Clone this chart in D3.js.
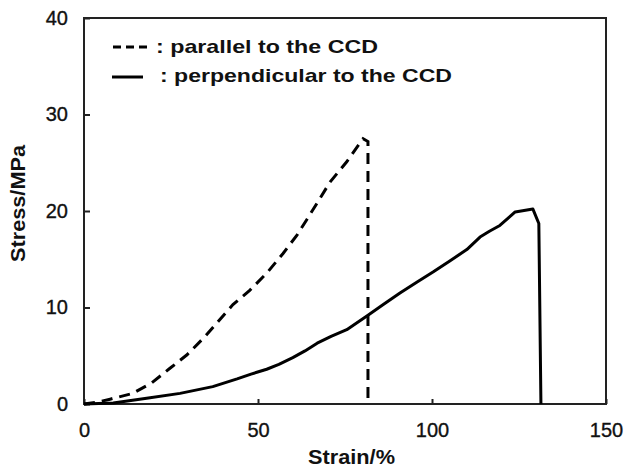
<!DOCTYPE html>
<html>
<head>
<meta charset="utf-8">
<script src="https://cdn.jsdelivr.net/npm/d3@7"></script>
<style>
  html, body { margin: 0; padding: 0; background: #fff; }
  svg { display: block; }
  text { font-family: "Liberation Sans", Arial, sans-serif; fill: #111; }
</style>
</head>
<body>
<svg id="chart" width="625" height="469"></svg>
<script>
// ---- data ----
const parallelStrain = [0, 4, 7.5, 14, 19.5, 24.7, 29.6, 34.8, 42.8, 47.7, 52.6, 57.2, 61.2, 64, 67.8, 70.7, 75.5, 80.2, 81.6, 81.6];
const parallelStress = [0, 0.2, 0.5, 1.1, 2.2, 3.7, 5.1, 7.0, 10.3, 11.8, 13.6, 15.6, 17.5, 19.1, 21.3, 23.0, 25.1, 27.5, 27.2, 0];
const perpStrain = [0, 8.4, 18, 27.6, 37, 44, 48, 52.5, 56, 60, 63.5, 67, 71, 75.5, 81.6, 86, 90.8, 95.5, 100.4, 105, 110, 113.8, 116.5, 119.5, 123.9, 129, 130.7, 131.3];
const perpStress = [0, 0.1, 0.6, 1.1, 1.8, 2.6, 3.1, 3.6, 4.1, 4.8, 5.5, 6.3, 7.0, 7.7, 9.2, 10.3, 11.5, 12.6, 13.7, 14.8, 16.0, 17.3, 17.9, 18.5, 19.9, 20.2, 18.7, 0];
const xTicks = [0, 50, 100, 150];
const yTicks = [0, 10, 20, 30, 40];
const legendLabels = [": parallel to the CCD", ": perpendicular to the CCD"];
const xTitle = "Strain/%";
const yTitle = "Stress/MPa";

// ---- layout ----
const L = 84, R = 606, T = 18, B = 404;
const svg = d3.select("#chart");
const x = d3.scaleLinear().domain([0, 150]).range([L, R]);
const y = d3.scaleLinear().domain([0, 40]).range([B, T]);

// axes (ticks inward)
const gx = svg.append("g").attr("transform", `translate(0,${B})`)
  .call(d3.axisBottom(x).tickValues(xTicks).tickSizeInner(-5).tickSizeOuter(0).tickPadding(19).tickFormat(d3.format("d")));
const gy = svg.append("g").attr("transform", `translate(${L},0)`)
  .call(d3.axisLeft(y).tickValues(yTicks).tickSizeInner(-6).tickSizeOuter(0).tickPadding(16).tickFormat(d3.format("d")));
[gx, gy].forEach(g => {
  g.select(".domain").remove();
  g.selectAll("line").attr("stroke", "#222").attr("stroke-width", 2);
  g.selectAll("text").attr("font-size", 20).attr("font-family", "Liberation Sans, Arial, sans-serif")
    .attr("fill", "#111").attr("stroke", "#111").attr("stroke-width", 0.35);
});

// frame
svg.append("rect").attr("x", L).attr("y", T).attr("width", R - L).attr("height", B - T)
  .attr("fill", "none").attr("stroke", "#222").attr("stroke-width", 2);

// curves
const line = d3.line().x(d => x(d[0])).y(d => y(d[1]));
const parData = parallelStrain.map((s, i) => [s, parallelStress[i]]);
const perpData = perpStrain.map((s, i) => [s, perpStress[i]]);
svg.append("path").datum(perpData).attr("d", line)
  .attr("fill", "none").attr("stroke", "#000").attr("stroke-width", 3).attr("stroke-linejoin", "round");
svg.append("path").datum(parData).attr("d", line)
  .attr("fill", "none").attr("stroke", "#000").attr("stroke-width", 3).attr("stroke-dasharray", "11,7");

// legend
svg.append("line").attr("x1", 113).attr("x2", 150).attr("y1", 47).attr("y2", 47)
  .attr("stroke", "#000").attr("stroke-width", 3).attr("stroke-dasharray", "8,5");
svg.append("line").attr("x1", 112).attr("x2", 143).attr("y1", 77).attr("y2", 77)
  .attr("stroke", "#000").attr("stroke-width", 3);
svg.append("text").attr("x", 156).attr("y", 53).attr("font-size", 19).attr("font-weight", "bold")
  .attr("textLength", 222).attr("lengthAdjust", "spacingAndGlyphs").text(legendLabels[0]);
svg.append("text").attr("x", 160).attr("y", 82).attr("font-size", 19).attr("font-weight", "bold")
  .attr("textLength", 292).attr("lengthAdjust", "spacingAndGlyphs").text(legendLabels[1]);

// axis titles
svg.append("text").attr("x", 351.5).attr("y", 464).attr("text-anchor", "middle")
  .attr("font-size", 20).attr("font-weight", "bold")
  .attr("textLength", 87).attr("lengthAdjust", "spacingAndGlyphs").text(xTitle);
svg.append("text").attr("transform", "translate(25,203.5) rotate(-90)").attr("text-anchor", "middle")
  .attr("font-size", 20).attr("font-weight", "bold")
  .attr("textLength", 117).attr("lengthAdjust", "spacingAndGlyphs").text(yTitle);
</script>
</body>
</html>
